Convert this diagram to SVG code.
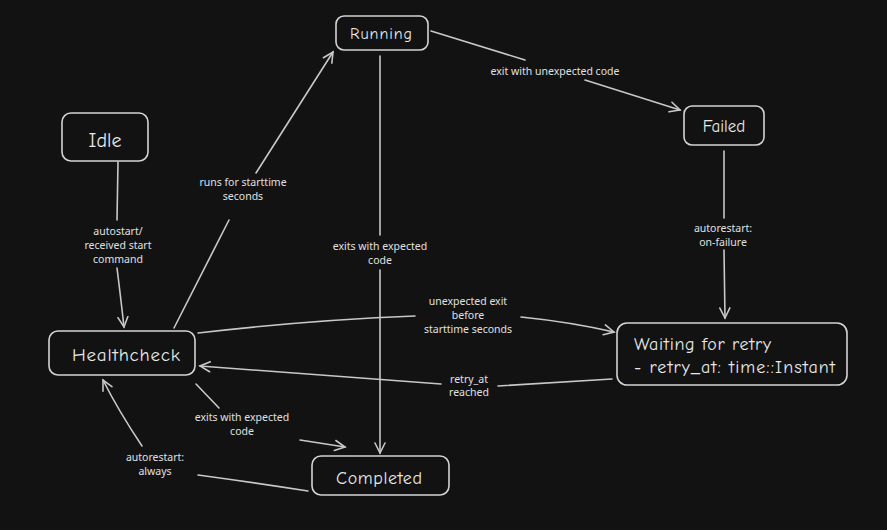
<svg xmlns="http://www.w3.org/2000/svg" width="887" height="530" viewBox="0 0 887 530">
<style>
.node rect{fill:#121212;stroke:#d4d4d4;stroke-width:1.6}
.node text{fill:#e8e8e8;font-family:"Comic Neue","Noto Sans","Liberation Sans",sans-serif;text-anchor:middle}
.edge{fill:none;stroke:#c8c8c8;stroke-width:1.6;stroke-linecap:round}
.lbl{fill:#e0e0e0;font-family:"Noto Sans","Liberation Sans",sans-serif;font-size:10.5px;text-anchor:middle}
</style>
<defs>
<marker id="arr" markerWidth="14" markerHeight="14" refX="11" refY="7" orient="auto" markerUnits="userSpaceOnUse">
<path d="M1,2 L11,7 L1,12" fill="none" stroke="#c8c8c8" stroke-width="1.6" stroke-linecap="round"/>
</marker>
</defs>
<rect width="887" height="530" fill="#121212"/>
<g id="connectors">
<path class="edge" d="M118,162 L117,220"/>
<path class="edge" d="M117,268 Q121,300 124,327" marker-end="url(#arr)"/>
<text class="lbl" x="118" y="235">autostart/</text>
<text class="lbl" x="118" y="249">received start</text>
<text class="lbl" x="118" y="263">command</text>

<path class="edge" d="M174,328 L229,220"/>
<path class="edge" d="M256,173 L333,52" marker-end="url(#arr)"/>
<text class="lbl" x="243" y="186">runs for starttime</text>
<text class="lbl" x="243" y="200">seconds</text>

<path class="edge" d="M431,31 L525,60"/>
<path class="edge" d="M585,80 L680,110" marker-end="url(#arr)"/>
<text class="lbl" x="555" y="75">exit with unexpected code</text>

<path class="edge" d="M380,56 L380,235"/>
<path class="edge" d="M380,270 L380,453" marker-end="url(#arr)"/>
<text class="lbl" x="380" y="250">exits with expected</text>
<text class="lbl" x="380" y="264">code</text>

<path class="edge" d="M724,151 L724,218"/>
<path class="edge" d="M724,250 L725,318" marker-end="url(#arr)"/>
<text class="lbl" x="723" y="232">autorestart:</text>
<text class="lbl" x="723" y="246">on-failure</text>

<path class="edge" d="M198,333 Q310,320 415,316"/>
<path class="edge" d="M521,317 Q570,322 614,332" marker-end="url(#arr)"/>
<text class="lbl" x="468" y="305">unexpected exit</text>
<text class="lbl" x="468" y="319">before</text>
<text class="lbl" x="468" y="333">starttime seconds</text>

<path class="edge" d="M612,379 Q550,383 498,386"/>
<path class="edge" d="M441,384 Q320,375 200,366" marker-end="url(#arr)"/>
<text class="lbl" x="469" y="383">retry_at</text>
<text class="lbl" x="469" y="396">reached</text>

<path class="edge" d="M196,384 L219,408"/>
<path class="edge" d="M300,440 L345,447" marker-end="url(#arr)"/>
<text class="lbl" x="242" y="421">exits with expected</text>
<text class="lbl" x="242" y="435">code</text>

<path class="edge" d="M308,491 Q250,482 198,475"/>
<path class="edge" d="M142,446 Q118,410 103,380" marker-end="url(#arr)"/>
<text class="lbl" x="155" y="461">autorestart:</text>
<text class="lbl" x="155" y="475">always</text>
</g>
<g id="idle" class="node"><rect x="62" y="113" width="86" height="48" rx="9"/><text x="105" y="147" font-size="20">Idle</text></g>
<g id="running" class="node"><rect x="336" y="16" width="92" height="34" rx="8"/><text x="381" y="39" font-size="16" textLength="62">Running</text></g>
<g id="failed" class="node"><rect x="684" y="106" width="80" height="39" rx="8"/><text x="724" y="132" font-size="17">Failed</text></g>
<g id="waiting" class="node"><rect x="617" y="323" width="230" height="62" rx="10"/><text x="634" y="350" font-size="18" textLength="137" style="text-anchor:start">Waiting for retry</text><text x="634" y="373" font-size="18" textLength="201" style="text-anchor:start">- retry_at: time::Instant</text></g>
<g id="healthcheck" class="node"><rect x="49" y="331" width="146" height="44" rx="9"/><text x="126" y="361" font-size="19" textLength="108">Healthcheck</text></g>
<g id="completed" class="node"><rect x="312" y="456" width="137" height="39" rx="9"/><text x="379" y="484" font-size="18" textLength="86">Completed</text></g>
</svg>
